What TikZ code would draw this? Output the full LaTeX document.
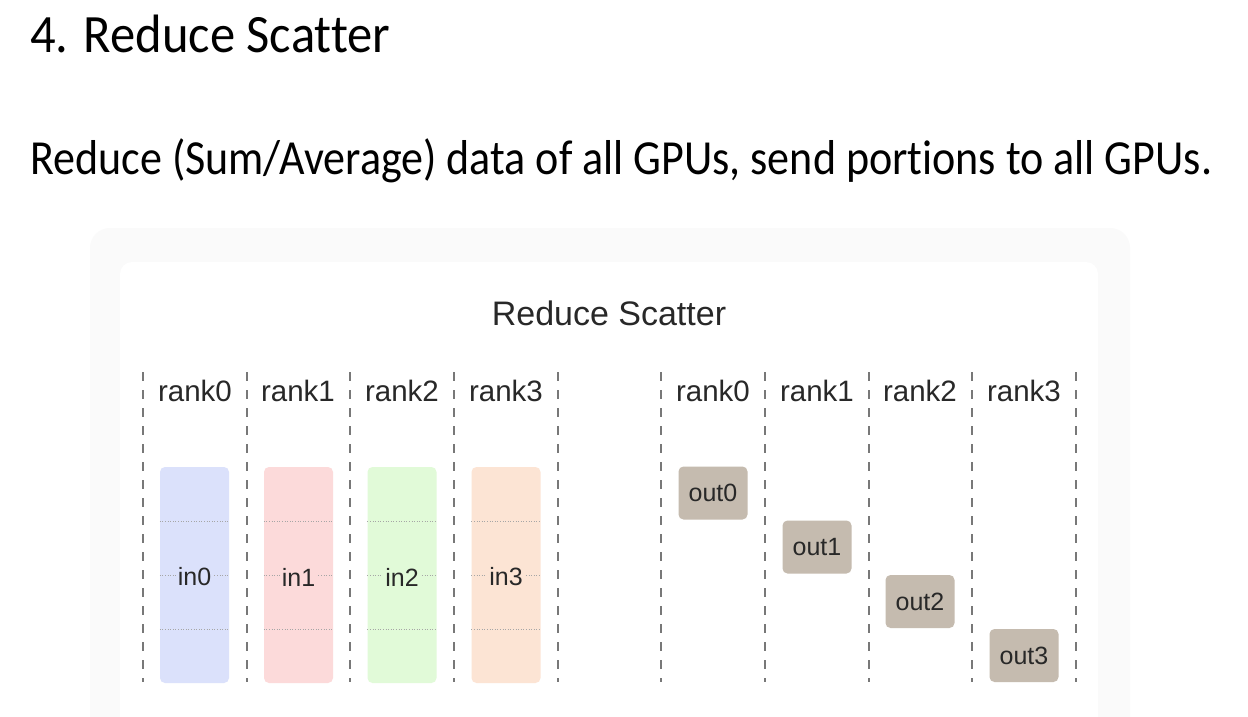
\documentclass[tikz,border=0pt]{standalone}
\usepackage{graphicx}
\usepackage{fontspec}
\setmainfont{Carlito}[Ligatures=NoCommon]
\newfontfamily\diagfont{Liberation Sans}
\definecolor{cblue}{RGB}{219,225,251}
\definecolor{cred}{RGB}{252,218,218}
\definecolor{cgreen}{RGB}{225,250,216}
\definecolor{corange}{RGB}{252,228,212}
\definecolor{outc}{RGB}{197,187,175}
\definecolor{textc}{RGB}{40,40,40}
\definecolor{linec}{RGB}{120,120,120}
\definecolor{panelc}{RGB}{250,250,250}
\tikzset{
  bar/.style={rounded corners=5pt, minimum width=69pt, minimum height=216pt, inner sep=0pt},
  inlabel/.style={inner sep=2pt, text=textc, font=\diagfont\fontsize{25}{25}\selectfont},
  outbox/.style={fill=outc, rounded corners=5pt, minimum width=69pt, minimum height=53pt, inner sep=0pt, text=textc, font=\diagfont\fontsize{25}{25}\selectfont},
  ranklabel/.style={text=textc, font=\diagfont\fontsize{29.5}{29.5}\selectfont},
  rankline/.style={draw=linec, line width=1.4pt, dash pattern=on 9pt off 9pt},
  sepline/.style={draw=black!35, line width=0.6pt, dotted}
}
\begin{document}
\begin{tikzpicture}[x=1pt,y=-1pt]
\useasboundingbox (0,0) rectangle (1248,717);
\fill[white] (0,0) rectangle (1248,717);
% panels
\fill[panelc, rounded corners=20pt] (90,228) rectangle (1130,760);
\fill[white, rounded corners=12pt] (120,262) rectangle (1098,760);
% headings
\node[anchor=west, inner sep=0pt, font=\fontsize{54}{54}\selectfont] (title) at (30,34) {\resizebox{360pt}{\height}{4. Reduce Scatter}};
\node[anchor=west, inner sep=0pt, font=\fontsize{49}{49}\selectfont] (sub) at (30,161) {\resizebox{1182pt}{\height}{Reduce (Sum/Average) data of all GPUs, send portions to all GPUs.}};
\node[text=textc, font=\diagfont\fontsize{34}{34}\selectfont] (dtitle) at (609,313) {Reduce Scatter};
% rank lines
\foreach \x in {143,247,350,454,558,661,765,869,972,1076}{
  \draw[rankline] (\x,372) -- (\x,682);
}
% rank labels
\foreach \x/\i in {195/0,298/1,402/2,506/3}{
  \node[ranklabel] (lr\i) at (\x,391) {rank\i};
}
\foreach \x/\i in {713/0,817/1,920/2,1024/3}{
  \node[ranklabel] (rr\i) at (\x,391) {rank\i};
}
% input bars
\foreach \x/\i/\c in {194.5/0/cblue,298.5/1/cred,402/2/cgreen,506/3/corange}{
  \node[bar, fill=\c] (in\i) at (\x,575) {};
  \draw[sepline] ([yshift=-54pt]in\i.north west) -- ([yshift=-54pt]in\i.north east);
  \draw[sepline] ([yshift=-108pt]in\i.north west) -- ([yshift=-108pt]in\i.north east);
  \draw[sepline] ([yshift=-162pt]in\i.north west) -- ([yshift=-162pt]in\i.north east);
  \node[inlabel, fill=\c] (lin\i) at ([yshift=-2pt]in\i.center) {in\i};
}
% output boxes
\node[outbox] (out0) at (713,493) {\raisebox{-3pt}{out0}};
\node[outbox] (out1) at (817,547) {\raisebox{-3pt}{out1}};
\node[outbox] (out2) at (920,601.5) {\raisebox{-3pt}{out2}};
\node[outbox] (out3) at (1024,655.5) {\raisebox{-3pt}{out3}};
\end{tikzpicture}
\end{document}
